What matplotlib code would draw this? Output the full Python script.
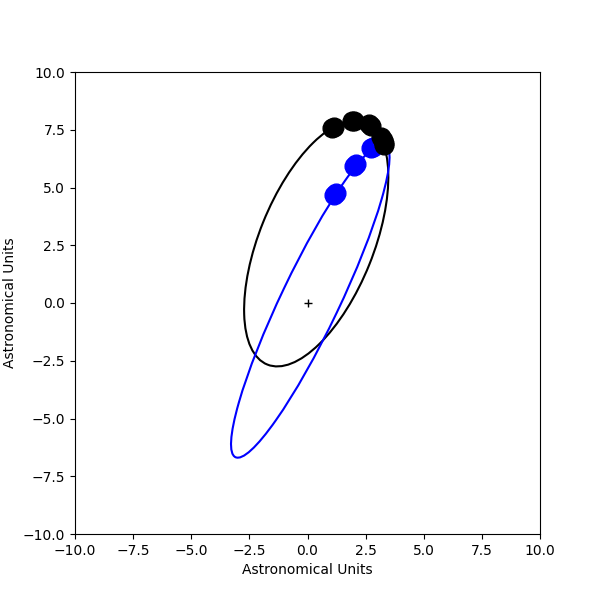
#!/usr/bin/env python

import numpy as np
import matplotlib
matplotlib.use("Agg")
import matplotlib.pyplot as plt
from matplotlib.patches import Ellipse

# Orbit shapes (centre, semi-major, semi-minor, tilt in degrees)
black_centre = (0.375, 2.58)
black_a, black_b, black_tilt = 5.65, 2.46, 68.2
blue_centre = (0.12, 0.1)
blue_a, blue_b, blue_tilt = 7.5, 1.25, 64.6

# Planet positions (two snapshots per blob)
black_x = [1.05, 1.15, 1.91, 2.01, 2.64, 2.74, 3.17, 3.23, 3.27, 3.31]
black_y = [7.56, 7.61, 7.87, 7.89, 7.74, 7.68, 7.18, 7.05, 6.92, 6.82]
blue_x = [1.15, 1.21, 2.01, 2.07, 2.74, 2.80]
blue_y = [4.69, 4.77, 5.94, 6.02, 6.69, 6.75]

fig = plt.figure(figsize=(6, 6), dpi=100)
ax = fig.add_subplot(111)

ax.add_patch(Ellipse(black_centre, 2*black_a, 2*black_b, angle=black_tilt,
                     fill=False, edgecolor='black', linewidth=1.5))
ax.add_patch(Ellipse(blue_centre, 2*blue_a, 2*blue_b, angle=blue_tilt,
                     fill=False, edgecolor='blue', linewidth=1.5))

ax.plot(blue_x, blue_y, 'o', color='blue', markersize=13.5, linestyle='none')
ax.plot(black_x, black_y, 'o', color='black', markersize=13.5, linestyle='none')
ax.plot(0, 0, '+', color='black', markersize=6)

ax.set_xlim(-10, 10)
ax.set_ylim(-10, 10)
ax.set_xlabel('Astronomical Units')
ax.set_ylabel('Astronomical Units')

plt.savefig('out.png', dpi=100)
